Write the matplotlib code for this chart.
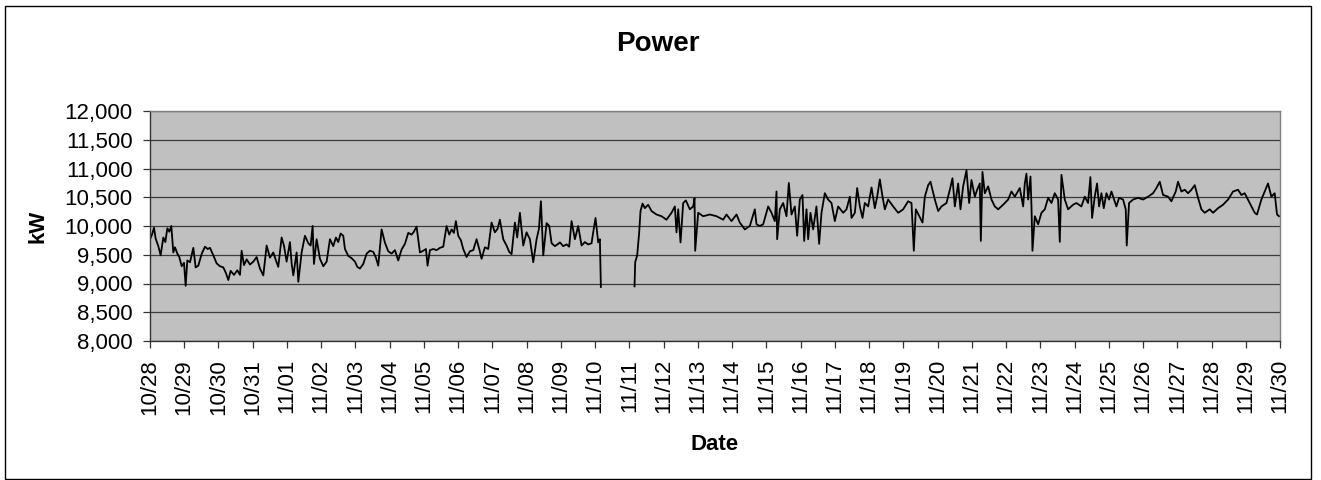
import numpy as np
import pandas as pd
import matplotlib
matplotlib.use("Agg")
import matplotlib.pyplot as plt
import matplotlib.dates as mdates
from matplotlib.ticker import FuncFormatter
from matplotlib.patches import Rectangle

# readings: days since 10/28 00:00 and kW
# (nan marks the gap in the record between 11/10 and 11/11)
day_offset = [
    0.000, 0.058, 0.117, 0.165, 0.243, 0.311, 0.389, 0.448, 0.506, 0.564,
    0.623, 0.681, 0.730, 0.798, 0.856, 0.925, 0.993, 1.041, 1.090, 1.168,
    1.265, 1.333, 1.411, 1.508, 1.606, 1.684, 1.752, 1.849, 1.946, 2.044,
    2.141, 2.219, 2.287, 2.355, 2.452, 2.550, 2.628, 2.676, 2.744, 2.822,
    2.920, 3.017, 3.114, 3.211, 3.309, 3.406, 3.503, 3.601, 3.679, 3.746,
    3.844, 3.912, 3.990, 4.087, 4.136, 4.185, 4.282, 4.331, 4.428, 4.525,
    4.623, 4.691, 4.749, 4.788, 4.866, 4.963, 5.061, 5.158,
    5.255, 5.352, 5.430, 5.498, 5.566, 5.644, 5.693, 5.790, 5.888, 5.985,
    6.053, 6.131, 6.228, 6.326, 6.423, 6.520, 6.598, 6.666, 6.763, 6.861,
    6.958, 7.055, 7.153, 7.250, 7.347, 7.445, 7.542, 7.639, 7.707, 7.785,
    7.883, 7.980, 8.058, 8.106, 8.175, 8.272, 8.369, 8.467, 8.564, 8.661,
    8.739, 8.807, 8.875, 8.933, 9.002, 9.080, 9.148, 9.245, 9.342, 9.440,
    9.537, 9.615, 9.683, 9.780, 9.878, 9.975, 10.072, 10.150, 10.218, 10.316,
    10.413, 10.491, 10.559, 10.656, 10.724, 10.802, 10.900, 10.997, 11.094,
    11.192, 11.290, 11.358, 11.416, 11.484, 11.582, 11.659, 11.728, 11.825, 11.922,
    11.970, 12.067, 12.165, 12.242, 12.311, 12.408, 12.505, 12.603, 12.700, 12.797,
    12.895, 12.943, 13.011, 13.089, 13.138, 13.167, 13.600,
    14.150, 14.169, 14.228, 14.286, 14.325, 14.384, 14.452, 14.549, 14.646, 14.792,
    14.938, 15.084, 15.230, 15.328, 15.376, 15.425, 15.493, 15.571, 15.649, 15.765,
    15.863, 15.902, 15.921, 16.009, 16.155, 16.349, 16.544, 16.739, 16.836, 16.982,
    17.128, 17.225, 17.371, 17.517, 17.663, 17.712, 17.809, 17.907, 18.053, 18.150,
    18.247, 18.296, 18.315, 18.393, 18.490, 18.588, 18.656, 18.734, 18.831, 18.899,
    18.977, 19.055, 19.104, 19.172, 19.220, 19.288, 19.366, 19.463, 19.541, 19.610,
    19.707, 19.804, 19.902, 19.999, 20.096,
    20.243, 20.341, 20.438, 20.487, 20.584, 20.652, 20.730, 20.808, 20.876, 20.973,
    21.071, 21.168, 21.236, 21.314, 21.392, 21.460, 21.557, 21.703, 21.849, 21.995,
    22.141, 22.238, 22.306, 22.365, 22.560, 22.628, 22.725, 22.793, 22.920, 23.017,
    23.114, 23.260, 23.358, 23.435, 23.504, 23.601, 23.669, 23.747, 23.844, 23.922,
    23.990, 24.087, 24.156, 24.233, 24.263, 24.311, 24.379, 24.477, 24.574, 24.671,
    24.769, 24.915, 25.061, 25.158, 25.255, 25.401, 25.499, 25.547, 25.596, 25.645,
    25.713, 25.742, 25.771, 25.839, 25.937, 26.034, 26.131, 26.229, 26.326, 26.423,
    26.520, 26.569, 26.618, 26.715, 26.812,
    26.957, 27.055, 27.201, 27.298, 27.395, 27.463, 27.512, 27.590, 27.658, 27.716,
    27.785, 27.853, 27.931, 28.008, 28.077, 28.222, 28.300, 28.417, 28.495, 28.524,
    28.592, 28.709, 28.855, 29.001, 29.147, 29.293, 29.390, 29.488, 29.585, 29.731,
    29.828, 29.955, 30.023, 30.120, 30.218, 30.315, 30.412, 30.510, 30.607, 30.704,
    30.801, 30.947, 31.045, 31.191, 31.337, 31.483, 31.629, 31.775, 31.872, 31.969,
    32.115, 32.261, 32.329, 32.456, 32.553, 32.650, 32.748, 32.845, 32.913, 32.971,
]

kw = [
    9770, 9850, 9970, 9780, 9650, 9490, 9800, 9720, 9960, 9900,
    10000, 9540, 9630, 9520, 9460, 9300, 9360, 8960, 9400, 9370,
    9620, 9280, 9310, 9515, 9640, 9600, 9620, 9490, 9350, 9300,
    9280, 9180, 9060, 9220, 9150, 9230, 9150, 9570, 9320, 9420,
    9330, 9380, 9460, 9260, 9140, 9660, 9450, 9540, 9400, 9290,
    9800, 9660, 9380, 9720, 9350, 9140, 9540, 9030, 9540, 9830,
    9700, 9660, 10000, 9340, 9770, 9430, 9300, 9380,
    9770, 9650, 9800, 9720, 9870, 9830, 9600, 9480, 9440, 9380,
    9290, 9260, 9340, 9520, 9570, 9550, 9450, 9310, 9940, 9710,
    9560, 9520, 9580, 9400, 9590, 9690, 9880, 9850, 9900, 9990,
    9540, 9570, 9600, 9310, 9580, 9600, 9580, 9620, 9640, 10000,
    9850, 9940, 9880, 10085, 9830, 9750, 9600, 9460, 9560, 9580,
    9770, 9600, 9430, 9630, 9600, 10060, 9890, 9950, 10110, 9770,
    9660, 9550, 9510, 10060, 9800, 10230, 9660, 9890, 9770,
    9370, 9770, 9950, 10430, 9490, 10050, 10000, 9700, 9650, 9690,
    9715, 9650, 9680, 9640, 10085, 9770, 10000, 9660, 9720, 9680,
    9700, 9890, 10140, 9715, 9770, 8940, np.nan,
    8950, 9370, 9490, 9890, 10260, 10390, 10310, 10370, 10260, 10200,
    10170, 10110, 10230, 10340, 9890, 10290, 9715, 10400, 10445, 10290,
    10340, 10485, 9570, 10230, 10170, 10200, 10170, 10110, 10200, 10085,
    10200, 10060, 9940, 10000, 10290, 10030, 10000, 10030, 10340, 10230,
    10085, 10600, 9770, 10290, 10400, 10170, 10750, 10200, 10340, 9830,
    10460, 10540, 9740, 10290, 9770, 10230, 9940, 10340, 9690, 10230,
    10570, 10460, 10400, 10085, 10340,
    10230, 10290, 10510, 10140, 10230, 10660, 10340, 10140, 10400, 10340,
    10670, 10310, 10510, 10810, 10510, 10290, 10460, 10340, 10230, 10290,
    10430, 10400, 9570, 10290, 10060, 10510, 10710, 10770, 10460, 10260,
    10340, 10400, 10630, 10830, 10340, 10740, 10290, 10690, 10970, 10400,
    10800, 10510, 10630, 10740, 9740, 10940, 10570, 10690, 10460, 10340,
    10290, 10370, 10460, 10600, 10510, 10660, 10340, 10740, 10910, 10460,
    10860, 10340, 9570, 10170, 10030, 10230, 10290, 10490, 10400, 10570,
    10460, 9725, 10890, 10460, 10290,
    10370, 10400, 10340, 10510, 10400, 10850, 10140, 10510, 10740, 10340,
    10570, 10310, 10570, 10460, 10600, 10340, 10490, 10460, 10290, 9660,
    10400, 10460, 10490, 10460, 10510, 10570, 10660, 10770, 10540, 10510,
    10430, 10600, 10770, 10600, 10630, 10570, 10630, 10710, 10490, 10290,
    10230, 10290, 10230, 10310, 10370, 10460, 10600, 10630, 10540, 10570,
    10400, 10230, 10200, 10460, 10600, 10740, 10510, 10570, 10200, 10170,
]

start = pd.Timestamp("2007-10-28")
tick_dates = pd.date_range(start, "2007-11-30", freq="D")
y_ticks = [8000, 8500, 9000, 9500, 10000, 10500, 11000, 11500, 12000]

times = start + pd.to_timedelta(day_offset, unit="D")

plt.rcParams["font.family"] = ["Liberation Sans", "DejaVu Sans"]

fig = plt.figure(figsize=(13.21, 4.8), dpi=100)
ax = fig.add_axes([150 / 1321, 139 / 480, 1130 / 1321, 230 / 480])
ax.set_facecolor("#c0c0c0")

ax.plot(times, kw, color="black", lw=1.3)

ax.set_ylim(8000, 12000)
ax.set_yticks(y_ticks)
ax.yaxis.set_major_formatter(FuncFormatter(lambda v, p: f"{v:,.0f}"))
ax.set_xlim(tick_dates[0], tick_dates[-1])
ax.set_xticks(tick_dates)
ax.xaxis.set_major_formatter(mdates.DateFormatter("%m/%d"))
ax.grid(axis="y", color="#3a3a3a", lw=0.9)
ax.set_axisbelow(True)

ax.tick_params(axis="y", direction="out", length=5, width=0.9, pad=7.5,
               labelsize=16, color="#333333")
ax.tick_params(axis="x", direction="out", length=5, width=0.9, pad=8,
               labelsize=16, labelrotation=90, color="#333333")

for side in ["left", "bottom"]:
    ax.spines[side].set_color("#333333")
    ax.spines[side].set_linewidth(1.0)
for side in ["top", "right"]:
    ax.spines[side].set_color("#808080")
    ax.spines[side].set_linewidth(1.0)

fig.text(658 / 1321, 1 - 44 / 480, "Power", ha="center", va="center",
         fontsize=20, fontweight="bold")
fig.text(715 / 1321, 36 / 480, "Date", ha="center", va="center",
         fontsize=16, fontweight="bold")
fig.text(38 / 1321, 254 / 480, "kW", ha="center", va="center",
         fontsize=16, fontweight="bold", rotation=90)

# chart area border (bottom edge sits on the last pixel row)
fig.patches.append(Rectangle((5 / 1321, 1 / 480), 1306 / 1321, 473 / 480,
                             transform=fig.transFigure, fill=False,
                             edgecolor="black", lw=1.0))

fig.savefig("out.png", dpi=100)
